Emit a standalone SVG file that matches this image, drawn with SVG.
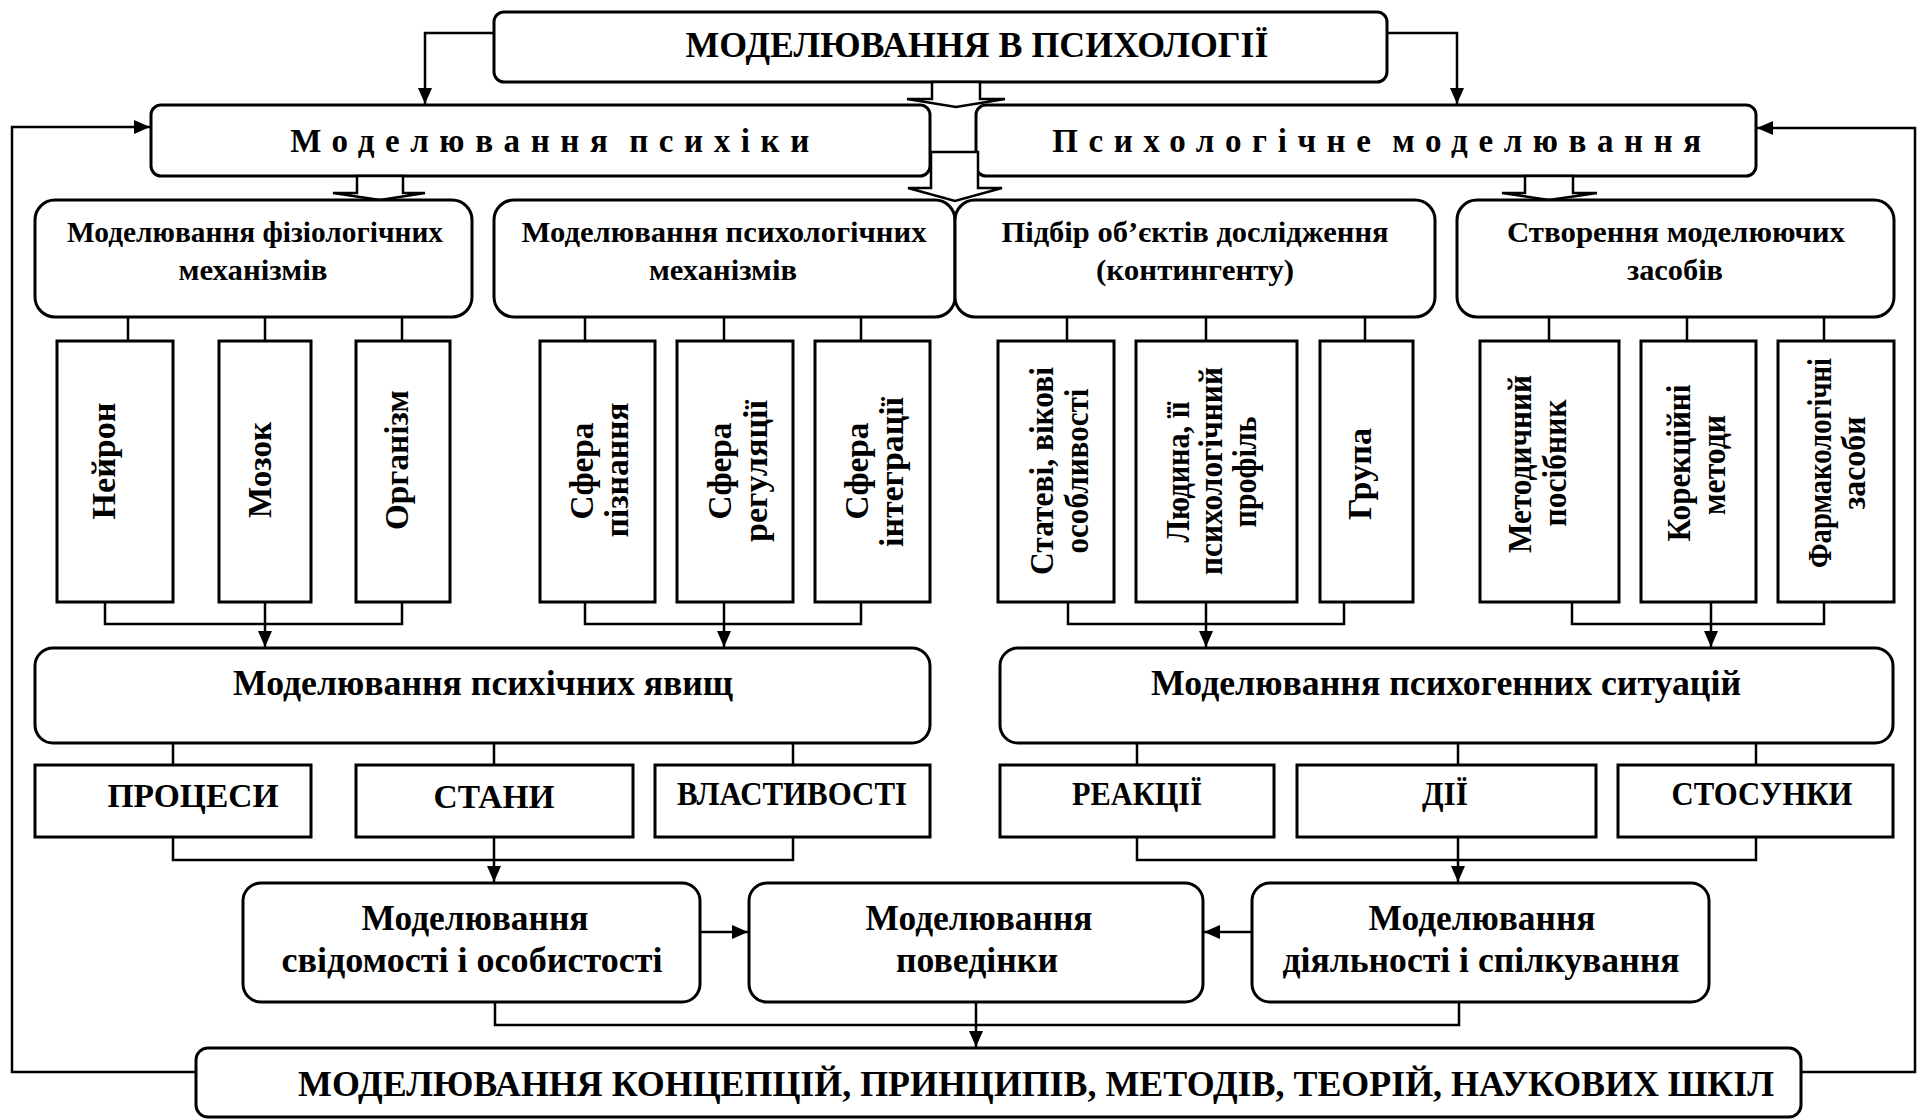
<svg xmlns="http://www.w3.org/2000/svg" width="1925" height="1120" viewBox="0 0 1925 1120">
<defs>
<style>
.box{fill:#fff;stroke:#000;stroke-width:3}
.ln{fill:none;stroke:#000;stroke-width:2.5}
.ar{fill:none;stroke:#000;stroke-width:2.5;marker-end:url(#ah)}
.blk{fill:#fff;stroke:#000;stroke-width:2.5;stroke-linejoin:miter}
.t{font-family:"Liberation Serif","Times New Roman",serif;font-weight:bold;fill:#000;text-anchor:middle}
.f36{font-size:36px}
.f34{font-size:34px}
.f33{font-size:33px}
.f30{font-size:30px}
.sp{letter-spacing:10.6px;word-spacing:-8px}
</style>
<marker id="ah" markerUnits="userSpaceOnUse" markerWidth="16" markerHeight="14" refX="16" refY="7" orient="auto">
<path d="M0,0 L16,7 L0,14 Z" fill="#000"/>
</marker>
</defs>
<rect width="1925" height="1120" fill="#fff"/>

<g id="connectors">
<path class="ar" d="M494,33 H425 V104"/>
<path class="ar" d="M1387,33 H1457 V104"/>
<path class="ar" d="M196,1072 H12 V127 H150"/>
<path class="ar" d="M1801,1072 H1915 V128 H1757"/>
<path class="ln" d="M128,317V341 M265,317V341 M402,317V341 M585,317V341 M724,317V341 M861,317V341 M1067,317V341 M1206,317V341 M1365,317V341 M1549,317V341 M1687,317V341 M1824,317V341"/>
<path class="ln" d="M105,602 V624 H402 V602 M585,602 V624 H861 V602 M1068,602 V624 H1344 V602 M1572,602 V624 H1824 V602"/>
<path class="ar" d="M265,602 V647"/>
<path class="ar" d="M724,602 V647"/>
<path class="ar" d="M1206,602 V647"/>
<path class="ar" d="M1711,602 V647"/>
<path class="ln" d="M173,743V765 M494,743V765 M793,743V765 M1137,743V765 M1458,743V765 M1756,743V765"/>
<path class="ln" d="M173,837 V860 H793 V837 M1137,837 V860 H1756 V837"/>
<path class="ar" d="M494,837 V882"/>
<path class="ar" d="M1458,837 V882"/>
<path class="ar" d="M700,932 H748"/>
<path class="ar" d="M1252,932 H1204"/>
<path class="ln" d="M495,1002 V1025 H1459 V1002"/>
<path class="ar" d="M976,1002 V1047"/>
</g>

<g id="n-title">
<rect class="box" x="494" y="12" width="893" height="70" rx="10"/>
<text class="t f36" x="977" y="57" textLength="583" lengthAdjust="spacingAndGlyphs">МОДЕЛЮВАННЯ В ПСИХОЛОГІЇ</text>
</g>

<g id="n-psyche">
<rect class="box" x="151" y="105" width="779" height="71" rx="10"/>
<text class="t f33 sp" x="555" y="152">Моделювання психіки</text>
</g>
<g id="n-psymodel">
<rect class="box" x="976" y="105" width="780" height="71" rx="10"/>
<text class="t f33 sp" x="1382" y="152">Психологічне моделювання</text>
</g>

<g id="block-arrows">
<polygon class="blk" points="932,82 932,99 907,99 956,107 1005,99 980,99 980,82"/>
<polygon class="blk" points="931,152 978,152 978,188 1002,188 955,201 908,188 931,188"/>
<polygon class="blk" points="357,176 357,193 333,193 380,200 425,193 403,193 403,176"/>
<polygon class="blk" points="1525,176 1525,193 1502,193 1549,200 1597,193 1573,193 1573,176"/>
</g>

<g id="n-physio">
<rect class="box" x="35" y="200" width="437" height="117" rx="20"/>
<text class="t f30" x="255" y="242" textLength="376" lengthAdjust="spacingAndGlyphs">Моделювання фізіологічних</text>
<text class="t f30" x="253" y="280" textLength="149" lengthAdjust="spacingAndGlyphs">механізмів</text>
</g>
<g id="n-psychmech">
<rect class="box" x="494" y="200" width="461" height="117" rx="20"/>
<text class="t f30" x="724" y="242" textLength="405" lengthAdjust="spacingAndGlyphs">Моделювання психологічних</text>
<text class="t f30" x="723" y="280" textLength="148" lengthAdjust="spacingAndGlyphs">механізмів</text>
</g>
<g id="n-objects">
<rect class="box" x="955" y="200" width="480" height="117" rx="20"/>
<text class="t f30" x="1195" y="242" textLength="387" lengthAdjust="spacingAndGlyphs">Підбір об’єктів дослідження</text>
<text class="t f30" x="1195" y="280" textLength="198" lengthAdjust="spacingAndGlyphs">(контингенту)</text>
</g>
<g id="n-tools">
<rect class="box" x="1457" y="200" width="437" height="117" rx="20"/>
<text class="t f30" x="1676" y="242" textLength="338" lengthAdjust="spacingAndGlyphs">Створення моделюючих</text>
<text class="t f30" x="1675" y="280" textLength="96" lengthAdjust="spacingAndGlyphs">засобів</text>
</g>

<g id="n-neuron">
<rect class="box" x="57" y="341" width="116" height="261"/>
<text class="t f34" transform="rotate(-90 115 461)" x="115" y="461" textLength="117" lengthAdjust="spacingAndGlyphs">Нейрон</text>
</g>
<g id="n-brain">
<rect class="box" x="219" y="341" width="92" height="261"/>
<text class="t f34" transform="rotate(-90 271 470)" x="271" y="470" textLength="96" lengthAdjust="spacingAndGlyphs">Мозок</text>
</g>
<g id="n-organism">
<rect class="box" x="356" y="341" width="94" height="261"/>
<text class="t f34" transform="rotate(-90 408 460)" x="408" y="460" textLength="140" lengthAdjust="spacingAndGlyphs">Організм</text>
</g>
<g id="n-cognition">
<rect class="box" x="540" y="341" width="115" height="261"/>
<text class="t f34" transform="rotate(-90 593 471)" x="593" y="471" textLength="97" lengthAdjust="spacingAndGlyphs">Сфера</text>
<text class="t f34" transform="rotate(-90 628 470)" x="628" y="470" textLength="135" lengthAdjust="spacingAndGlyphs">пізнання</text>
</g>
<g id="n-regulation">
<rect class="box" x="677" y="341" width="116" height="261"/>
<text class="t f34" transform="rotate(-90 731 471)" x="731" y="471" textLength="97" lengthAdjust="spacingAndGlyphs">Сфера</text>
<text class="t f34" transform="rotate(-90 767 471)" x="767" y="471" textLength="142" lengthAdjust="spacingAndGlyphs">регуляції</text>
</g>
<g id="n-integration">
<rect class="box" x="815" y="341" width="115" height="261"/>
<text class="t f34" transform="rotate(-90 868 471)" x="868" y="471" textLength="97" lengthAdjust="spacingAndGlyphs">Сфера</text>
<text class="t f34" transform="rotate(-90 903 472)" x="903" y="472" textLength="150" lengthAdjust="spacingAndGlyphs">інтеграції</text>
</g>
<g id="n-sexage">
<rect class="box" x="998" y="341" width="116" height="261"/>
<text class="t f34" transform="rotate(-90 1053 471)" x="1053" y="471" textLength="208" lengthAdjust="spacingAndGlyphs">Статеві,  вікові</text>
<text class="t f34" transform="rotate(-90 1088 471)" x="1088" y="471" textLength="165" lengthAdjust="spacingAndGlyphs">особливості</text>
</g>
<g id="n-person">
<rect class="box" x="1136" y="341" width="161" height="261"/>
<text class="t f34" transform="rotate(-90 1189 472)" x="1189" y="472" textLength="141" lengthAdjust="spacingAndGlyphs">Людина, її</text>
<text class="t f34" transform="rotate(-90 1222 471)" x="1222" y="471" textLength="208" lengthAdjust="spacingAndGlyphs">психологічний</text>
<text class="t f34" transform="rotate(-90 1256 472)" x="1256" y="472" textLength="111" lengthAdjust="spacingAndGlyphs">профіль</text>
</g>
<g id="n-group">
<rect class="box" x="1320" y="341" width="93" height="261"/>
<text class="t f34" transform="rotate(-90 1371 474)" x="1371" y="474" textLength="92" lengthAdjust="spacingAndGlyphs">Група</text>
</g>
<g id="n-manual">
<rect class="box" x="1480" y="341" width="139" height="261"/>
<text class="t f34" transform="rotate(-90 1531 464)" x="1531" y="464" textLength="178" lengthAdjust="spacingAndGlyphs">Методичний</text>
<text class="t f34" transform="rotate(-90 1566 463)" x="1566" y="463" textLength="127" lengthAdjust="spacingAndGlyphs">посібник</text>
</g>
<g id="n-correction">
<rect class="box" x="1641" y="341" width="115" height="261"/>
<text class="t f34" transform="rotate(-90 1690 463)" x="1690" y="463" textLength="157" lengthAdjust="spacingAndGlyphs">Корекційні</text>
<text class="t f34" transform="rotate(-90 1725 465)" x="1725" y="465" textLength="100" lengthAdjust="spacingAndGlyphs">методи</text>
</g>
<g id="n-pharma">
<rect class="box" x="1778" y="341" width="116" height="261"/>
<text class="t f34" transform="rotate(-90 1831 463)" x="1831" y="463" textLength="210" lengthAdjust="spacingAndGlyphs">Фармакологічні</text>
<text class="t f34" transform="rotate(-90 1865 463)" x="1865" y="463" textLength="93" lengthAdjust="spacingAndGlyphs">засоби</text>
</g>

<g id="n-phenomena">
<rect class="box" x="35" y="648" width="895" height="95" rx="18"/>
<text class="t f36" x="483" y="695" textLength="500" lengthAdjust="spacingAndGlyphs">Моделювання психічних явищ</text>
</g>
<g id="n-situations">
<rect class="box" x="1000" y="648" width="893" height="95" rx="18"/>
<text class="t f36" x="1446" y="695" textLength="590" lengthAdjust="spacingAndGlyphs">Моделювання психогенних ситуацій</text>
</g>

<g id="n-processes">
<rect class="box" x="35" y="765" width="276" height="72"/>
<text class="t f33" x="193" y="807" textLength="171" lengthAdjust="spacingAndGlyphs">ПРОЦЕСИ</text>
</g>
<g id="n-states">
<rect class="box" x="356" y="765" width="277" height="72"/>
<text class="t f33" x="494" y="808" textLength="121" lengthAdjust="spacingAndGlyphs">СТАНИ</text>
</g>
<g id="n-properties">
<rect class="box" x="655" y="765" width="275" height="72"/>
<text class="t f33" x="792" y="805" textLength="230" lengthAdjust="spacingAndGlyphs">ВЛАСТИВОСТІ</text>
</g>
<g id="n-reactions">
<rect class="box" x="1000" y="765" width="274" height="72"/>
<text class="t f33" x="1137" y="805" textLength="130" lengthAdjust="spacingAndGlyphs">РЕАКЦІЇ</text>
</g>
<g id="n-actions">
<rect class="box" x="1297" y="765" width="299" height="72"/>
<text class="t f33" x="1445" y="805" textLength="46" lengthAdjust="spacingAndGlyphs">ДІЇ</text>
</g>
<g id="n-relations">
<rect class="box" x="1618" y="765" width="275" height="72"/>
<text class="t f33" x="1762" y="805" textLength="181" lengthAdjust="spacingAndGlyphs">СТОСУНКИ</text>
</g>

<g id="n-consciousness">
<rect class="box" x="243" y="883" width="457" height="119" rx="18"/>
<text class="t f36" x="475" y="930" textLength="227" lengthAdjust="spacingAndGlyphs">Моделювання</text>
<text class="t f36" x="472" y="972" textLength="381" lengthAdjust="spacingAndGlyphs">свідомості і особистості</text>
</g>
<g id="n-behaviour">
<rect class="box" x="749" y="883" width="454" height="119" rx="18"/>
<text class="t f36" x="979" y="930" textLength="227" lengthAdjust="spacingAndGlyphs">Моделювання</text>
<text class="t f36" x="977" y="972" textLength="162" lengthAdjust="spacingAndGlyphs">поведінки</text>
</g>
<g id="n-activity">
<rect class="box" x="1252" y="883" width="457" height="119" rx="18"/>
<text class="t f36" x="1482" y="930" textLength="227" lengthAdjust="spacingAndGlyphs">Моделювання</text>
<text class="t f36" x="1481" y="972" textLength="397" lengthAdjust="spacingAndGlyphs">діяльності і спілкування</text>
</g>

<g id="n-concepts">
<rect class="box" x="196" y="1048" width="1605" height="69" rx="12"/>
<text class="t f36" x="1036" y="1096" textLength="1476" lengthAdjust="spacingAndGlyphs">МОДЕЛЮВАННЯ КОНЦЕПЦІЙ, ПРИНЦИПІВ, МЕТОДІВ, ТЕОРІЙ, НАУКОВИХ ШКІЛ</text>
</g>
</svg>
